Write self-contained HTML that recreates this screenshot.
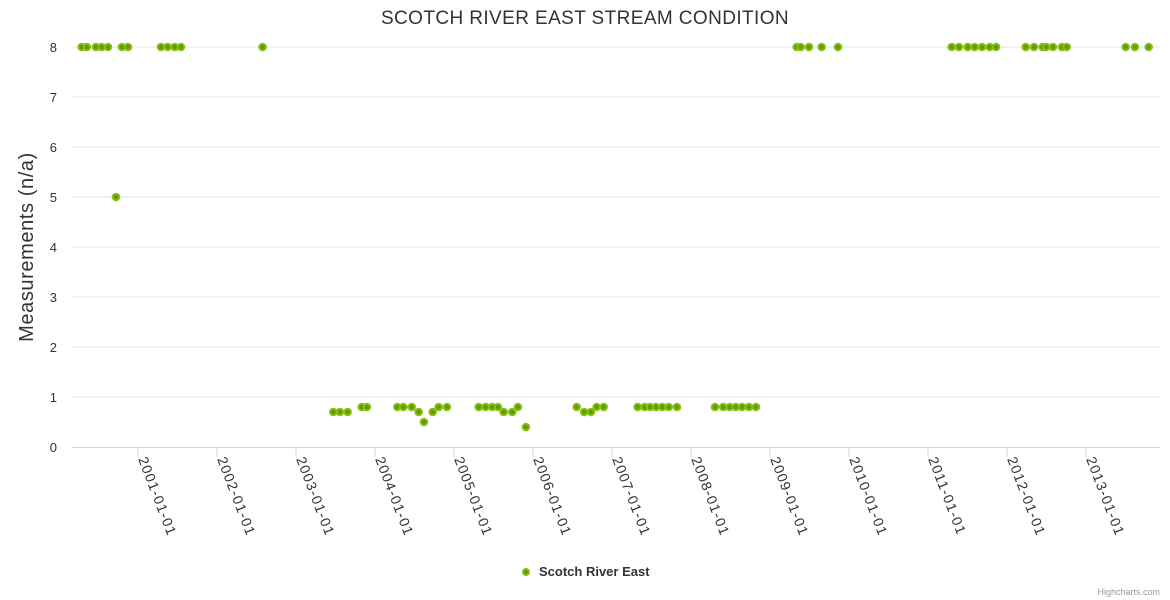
<!DOCTYPE html>
<html><head><meta charset="utf-8"><style>
body{margin:0;background:#fff;}
svg{display:block;font-family:"Liberation Sans",sans-serif;}
</style></head><body>
<svg id="chart" width="1170" height="600">
<text x="585" y="24" text-anchor="middle" font-size="19" letter-spacing="0.4" fill="#333">SCOTCH RIVER EAST STREAM CONDITION</text>
<text transform="translate(33,247) rotate(-90)" text-anchor="middle" font-size="20" letter-spacing="0.6" fill="#333">Measurements (n/a)</text>
<g id="grid"></g><g id="xaxis"></g><g id="points"></g>
<g>
<circle cx="526" cy="572" r="3" fill="#5a9e00" stroke="#8bbd16" stroke-width="2"/>
<text x="539" y="576" font-size="13" font-weight="bold" fill="#333">Scotch River East</text>
</g>
<text x="1160" y="595" text-anchor="end" font-size="9" fill="#999">Highcharts.com</text>
</svg>
<script>
const yTicks=[0,1,2,3,4,5,6,7,8];
const xTickYears=[2001,2002,2003,2004,2005,2006,2007,2008,2009,2010,2011,2012,2013];
const dates=[2000.287,2000.354,2000.468,2000.541,2000.620,2000.722,2000.797,2000.873,2001.291,2001.376,2001.465,2001.544,2002.578,
2003.472,2003.557,2003.654,2003.832,2003.899,2004.282,2004.358,2004.465,2004.553,2004.620,2004.730,2004.806,2004.911,
2005.313,2005.401,2005.485,2005.557,2005.629,2005.738,2005.810,2005.911,2006.553,2006.649,2006.734,2006.806,2006.895,
2007.325,2007.414,2007.481,2007.557,2007.637,2007.718,2007.823,2008.304,2008.409,2008.490,2008.566,2008.646,2008.734,2008.823,
2009.338,2009.389,2009.494,2009.654,2009.861,2011.300,2011.392,2011.503,2011.591,2011.684,2011.781,2011.861,
2012.237,2012.342,2012.452,2012.497,2012.582,2012.696,2012.756,2013.503,2013.620,2013.794];
const values=[8,8,8,8,8,5,8,8,8,8,8,8,8,
0.7,0.7,0.7,0.8,0.8,0.8,0.8,0.8,0.7,0.5,0.7,0.8,0.8,
0.8,0.8,0.8,0.8,0.7,0.7,0.8,0.4,0.8,0.7,0.7,0.8,0.8,
0.8,0.8,0.8,0.8,0.8,0.8,0.8,0.8,0.8,0.8,0.8,0.8,0.8,0.8,
8,8,8,8,8,8,8,8,8,8,8,8,
8,8,8,8,8,8,8,8,8,8];
const NS='http://www.w3.org/2000/svg';
const L=72,R=1160,T=47,B=447;
const xMin=2000.165,xMax=2013.937,yMin=0,yMax=8;
function xs(v){return L+(v-xMin)/(xMax-xMin)*(R-L);}
function ys(v){return B-(v-yMin)/(yMax-yMin)*(B-T);}
function mk(tag,attrs,parent){const e=document.createElementNS(NS,tag);for(const k in attrs)e.setAttribute(k,attrs[k]);parent.appendChild(e);return e;}
const grid=document.getElementById('grid'),xa=document.getElementById('xaxis'),pts=document.getElementById('points');
yTicks.forEach(t=>{
  if(t>0){const l=mk('line',{x1:L,x2:R,y1:ys(t),y2:ys(t),stroke:'#e6e6e6'},grid);
  
  }
  const tx=mk('text',{x:57,y:ys(t)+5,'text-anchor':'end','font-size':13,fill:'#333'},grid);
  tx.textContent=t;
  
  
});
const ax=mk('line',{x1:L,x2:R,y1:B+0.5,y2:B+0.5,stroke:'#ccd6eb'},xa);


xTickYears.forEach(yr=>{
  const x=xs(yr);
  const tk=mk('line',{x1:x,x2:x,y1:B,y2:B+10,stroke:'#ccd6eb'},xa);
  
  
  const tx=mk('text',{x:x,y:459,'font-size':14,'letter-spacing':1.2,fill:'#333',transform:'rotate(69 '+(x)+' 459)'},xa);
  tx.textContent=yr+'-01-01';
  
  
});
dates.forEach((d,i)=>{
  const c=mk('circle',{cx:xs(d),cy:ys(values[i]),r:3.3,fill:'#5a9e00',stroke:'#8bbd16','stroke-width':2},pts);
  
  
});
</script>
</body></html>
